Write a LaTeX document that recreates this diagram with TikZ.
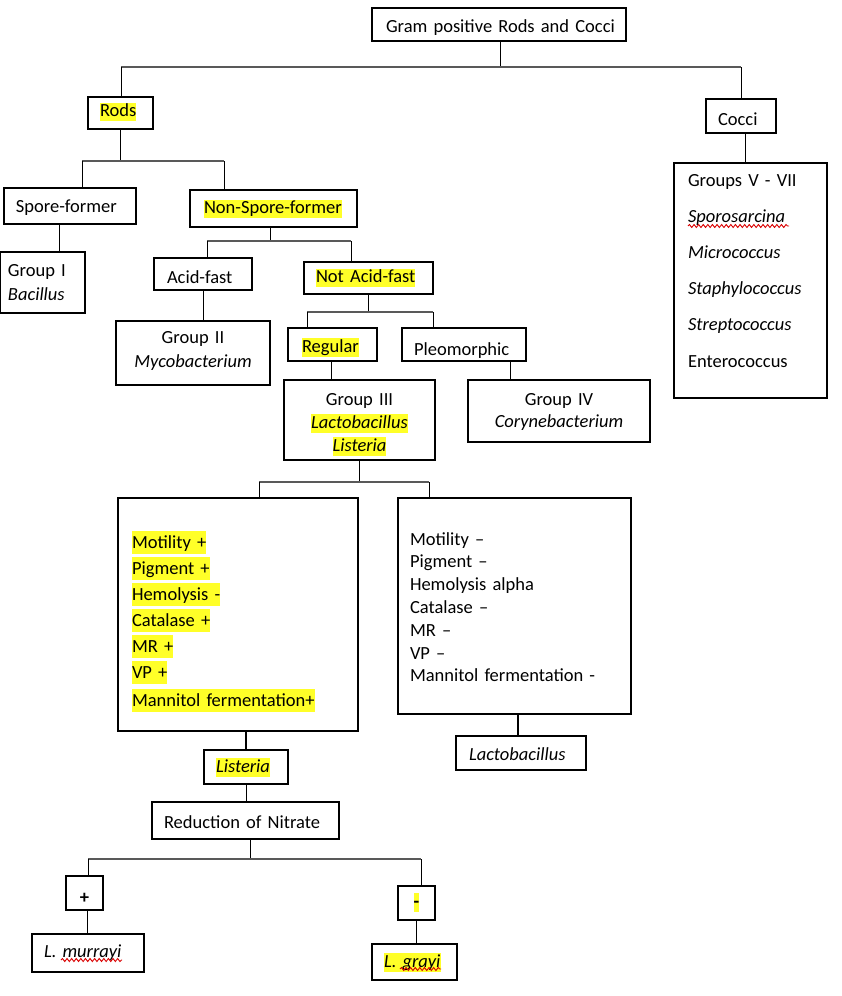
\documentclass[tikz,border=0pt]{standalone}
\usepackage{fontspec}
\setmainfont{Carlito}
\usepackage{tikz}
\usetikzlibrary{positioning, decorations.pathmorphing}

\definecolor{hlyellow}{RGB}{255,255,40}
\newcommand{\boxfont}{\fontsize{18.5pt}{23pt}\selectfont}
\newcommand{\hlite}[1]{{\setlength{\fboxsep}{0pt}\colorbox{hlyellow}{\rule[-4.6pt]{0pt}{18.5pt}#1}}}
\newcommand{\hlbig}[1]{{\setlength{\fboxsep}{0pt}\colorbox{hlyellow}{\rule[-5.5pt]{0pt}{23.7pt}#1}}}

\begin{document}
\begin{tikzpicture}[
  x=1pt, y=-1pt,
  box/.style={rectangle, draw=black, line width=1.1pt, inner xsep=0pt, inner ysep=0pt,
    font=\boxfont, align=center},
  lbox/.style={box, align=left, inner xsep=12pt},
  link/.style={line width=1pt, black},
  bus/.style={line width=1.2pt, black!65},
  thicklink/.style={line width=2pt, black},
  squig/.style={red!85!black, line width=0.9pt, decorate,
    decoration={snake, amplitude=1.5pt, segment length=4.6pt}},
]
\useasboundingbox (0,0) rectangle (842,996);

% top level
\node[lbox, inner xsep=14pt, text width=226pt, text height=24.3pt, text depth=8.7pt] (root) at (499,24.5) {\mbox{Gram positive Rods and Cocci}};
\node[lbox, text width=41pt, text height=19.6pt, text depth=12.4pt] (rods) at (120.5,113) {\hlite{Rods}};
\node[lbox, text width=46pt, text height=26pt, text depth=8pt] (cocci) at (741,116) {Cocci};

% Cocci
\node[lbox, inner xsep=14pt, text width=125pt, text height=23pt, text depth=212pt,
  font={\fontsize{18.5pt}{36.2pt}\selectfont}] (groups) at (750.5,280.5)
  {Groups V - VII\\\textit{Sporosarcina}\\\textit{Micrococcus}\\\textit{Staphylococcus}\\\textit{Streptococcus}\\Enterococcus};

% Rods
\node[lbox, text width=108pt, text height=24pt, text depth=12pt] (spore) at (70,206) {Spore-former};
\node[lbox, inner xsep=14pt, text width=139pt, text height=23.4pt, text depth=13.6pt] (nonspore) at (273.5,208.5) {\hlite{Non-Spore-former}};
\node[lbox, inner xsep=8pt, text width=69pt, text height=24pt, text depth=37pt,
  font={\fontsize{18.5pt}{24pt}\selectfont}] (groupI) at (42.5,282.5) {Group I\\\textit{Bacillus}};

% Non-spore-former
\node[lbox, inner xsep=13pt, text width=72pt, text height=25pt, text depth=7pt] (acidfast) at (203,274) {Acid-fast};
\node[lbox, text width=105pt, text height=20.7pt, text depth=11.3pt] (notacid) at (368.5,278) {\hlite{Not Acid-fast}};
\node[box, text width=154pt, text height=22pt, text depth=42pt,
  font={\fontsize{18.5pt}{24pt}\selectfont}] (groupII) at (193,353) {Group II\\\textit{Mycobacterium}};

% Not acid-fast
\node[lbox, inner xsep=14pt, text width=61pt, text height=24pt, text depth=9pt] (regular) at (332.5,344.5) {\hlite{Regular}};
\node[lbox, text width=100pt, text height=27pt, text depth=6pt] (pleo) at (464,344.5) {Pleomorphic};
\node[box, text width=151pt, text height=25pt, text depth=55pt] (groupIII) at (359.5,420)
  {Group III\\\hlite{\textit{Lactobacillus}}\\\hlite{\textit{Listeria}}};
\node[box, text width=182pt, text height=25pt, text depth=37pt,
  font={\fontsize{18.5pt}{22pt}\selectfont}] (groupIV) at (559,411) {Group IV\\\textit{Corynebacterium}};

% Group III tests
\node[lbox, inner xsep=14pt, text width=212pt, text height=50.7pt, text depth=182.3pt,
  font={\fontsize{18.5pt}{26pt}\selectfont}] (featL) at (238,614.5)
  {\hlbig{Motility +}\\\hlbig{Pigment +}\\\hlbig{Hemolysis -}\\\hlbig{Catalase +}\\\hlbig{MR +}\\\hlbig{VP +}\\[2pt]\hlbig{Mannitol fermentation+}};
\node[lbox, text width=209pt, text height=47pt, text depth=169pt,
  font={\fontsize{18.5pt}{22.8pt}\selectfont}] (featR) at (514.5,606)
  {Motility –\\Pigment –\\Hemolysis alpha\\Catalase –\\MR –\\VP –\\Mannitol fermentation -};
\node[lbox, text width=60pt, text height=22pt, text depth=12pt] (listeria) at (246,767) {\hlite{\textit{Listeria}}};
\node[lbox, inner xsep=13pt, text width=104pt, text height=24pt, text depth=10pt] (lacto) at (521,753) {\textit{Lactobacillus}};

% Listeria
\node[lbox, text width=163pt, text height=26pt, text depth=11pt] (nitrate) at (245.5,820.5) {Reduction of Nitrate};
\node[box, minimum width=37pt, text height=27pt, text depth=7pt] (plus) at (84.5,893) {\textbf{+}};
\node[box, minimum width=37pt, text height=21pt, text depth=13pt] (minus) at (416.5,903) {\hlite{\textbf{-}}};
\node[lbox, text width=88pt, text height=23pt, text depth=15pt] (murrayi) at (88,953) {\textit{L. murrayi}};
\node[lbox, text width=61pt, text height=23pt, text depth=13pt] (grayi) at (414.5,962) {\hlite{\textit{L. grayi}}};

% bus lines
\coordinate (b1l) at (121,67);  \coordinate (b1r) at (741,67);
\coordinate (b2l) at (82,161);  \coordinate (b2r) at (224,161);
\coordinate (b3l) at (207,241); \coordinate (b3r) at (351,241);
\coordinate (b4l) at (307,312); \coordinate (b4r) at (433,312);
\coordinate (b5l) at (259,482); \coordinate (b5r) at (429,482);
\coordinate (b6l) at (88,859);  \coordinate (b6r) at (421,859);

% Connectors
\draw[link] ([xshift=1pt]root.south) -- ([xshift=1pt]root.south |- b1l);
\draw[bus] (b1l) -- (b1r);
\draw[link] (b1l) -- (b1l |- rods.north);
\draw[link] (b1r) -- (b1r |- cocci.north);
\draw[link] ([xshift=4pt]cocci.south) -- ([xshift=4pt]cocci.south |- groups.north);

\draw[link] (rods) -- (rods |- b2l);
\draw[bus] (b2l) -- (b2r);
\draw[link] (b2l) -- (b2l |- spore.north);
\draw[link] (b2r) -- (b2r |- nonspore.north);
\draw[link] ([xshift=-11pt]spore.south) -- ([xshift=-11pt]spore.south |- groupI.north);

\draw[link] ([xshift=-3pt]nonspore.south) -- ([xshift=-3pt]nonspore.south |- b3l);
\draw[bus] (b3l) -- (b3r);
\draw[link] (b3l) -- (b3l |- acidfast.north);
\draw[link] (b3r) -- (b3r |- notacid.north);
\draw[link] (acidfast) -- (acidfast |- groupII.north);

\draw[link] (notacid) -- (notacid |- b4l);
\draw[bus] (b4l) -- (b4r);
\draw[link] (b4l) -- (b4l |- regular.north);
\draw[link] (b4r) -- (b4r |- pleo.north);
\draw[link] ([xshift=-1.5pt]regular.south) -- ([xshift=-1.5pt]regular.south |- groupIII.north);
\draw[link] ([xshift=46pt]pleo.south) -- ([xshift=46pt]pleo.south |- groupIV.north);

\draw[link] (groupIII) -- (groupIII |- b5l);
\draw[bus] (b5l) -- (b5r);
\draw[link] (b5l) -- (b5l |- featL.north);
\draw[link] (b5r) -- (b5r |- featR.north);
\draw[thicklink] ([xshift=8pt]featL.south) -- ([xshift=8pt]featL.south |- listeria.north);
\draw[thicklink] ([xshift=3.5pt]featR.south) -- ([xshift=3.5pt]featR.south |- lacto.north);

\draw[link] (listeria) -- (listeria |- nitrate.north);
\draw[link] ([xshift=4.5pt]nitrate.south) -- ([xshift=4.5pt]nitrate.south |- b6l);
\draw[bus] (b6l) -- (b6r);
\draw[link] (b6l) -- (b6l |- plus.north);
\draw[link] (b6r) -- (b6r |- minus.north);
\draw[link] ([xshift=2.5pt]plus.south) -- ([xshift=2.5pt]plus.south |- murrayi.north);
\draw[link] (minus) -- (minus |- grayi.north);

% spelling marks
\draw[squig] (688,226) -- (789,226);
\draw[squig] (61,960) -- (122,960);
\draw[squig] (400,969) -- (441,969);

\end{tikzpicture}
\end{document}
